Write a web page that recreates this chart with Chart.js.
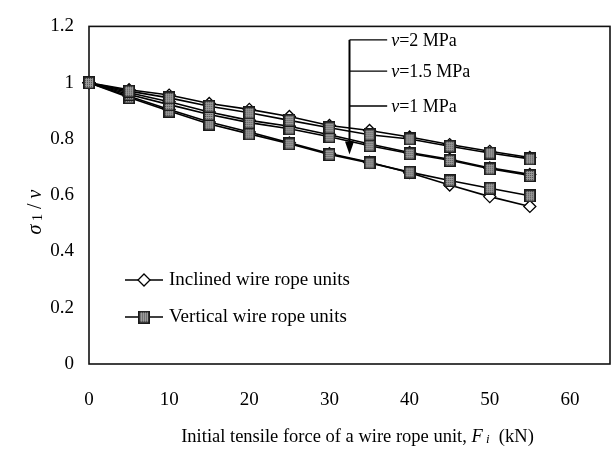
<!DOCTYPE html>
<html>
<head>
<meta charset="utf-8">
<script src="https://cdn.jsdelivr.net/npm/chart.js@4/dist/chart.umd.min.js"></script>
<style>
  html, body { margin: 0; padding: 0; background: #fff; }
  #wrap { width: 616px; height: 457px; position: relative; }
</style>
</head>
<body>
<div id="wrap"><canvas id="c" width="616" height="457"></canvas></div>
<script>
// ---- data ----
const forces = [0, 5, 10, 15, 20, 25, 30, 35, 40, 45, 50, 55];
const inclinedV2  = [1, 0.975, 0.956, 0.926, 0.905, 0.880, 0.848, 0.830, 0.807, 0.780, 0.756, 0.734];
const verticalV2  = [1, 0.970, 0.946, 0.916, 0.893, 0.866, 0.840, 0.815, 0.800, 0.774, 0.750, 0.729];
const inclinedV15 = [1, 0.964, 0.932, 0.896, 0.866, 0.845, 0.815, 0.782, 0.752, 0.728, 0.697, 0.674];
const verticalV15 = [1, 0.958, 0.922, 0.887, 0.858, 0.836, 0.808, 0.776, 0.748, 0.724, 0.694, 0.670];
const inclinedV1  = [1, 0.952, 0.905, 0.860, 0.825, 0.786, 0.748, 0.717, 0.680, 0.636, 0.595, 0.560];
const verticalV1  = [1, 0.947, 0.899, 0.853, 0.818, 0.783, 0.745, 0.715, 0.682, 0.652, 0.625, 0.598];
const xTicks = [0, 10, 20, 30, 40, 50, 60];
const yTicks = [0, 0.2, 0.4, 0.6, 0.8, 1, 1.2];
const legendLabels = ['Inclined wire rope units', 'Vertical wire rope units'];
const pressureLabels = ['2', '1.5', '1'];
const pressureLabelY = [1.152, 1.041, 0.917];
const arrowX = 32.5, arrowTop = 1.152, arrowBottom = 0.745, labelLineEndX = 37.2;

const SERIF = '"Liberation Serif", "DejaVu Serif", serif';

// square marker with grid pattern
function makeSquare(w, h) {
  const c = document.createElement('canvas');
  c.width = w; c.height = h;
  const g = c.getContext('2d');
  g.fillStyle = '#4a4a4a';
  g.fillRect(0, 0, w, h);
  g.strokeStyle = '#9c9c9c';
  g.lineWidth = 1;
  for (let p = 3; p < w - 1; p += 2) {
    g.beginPath(); g.moveTo(p + 0.5, 2); g.lineTo(p + 0.5, h - 2); g.stroke();
  }
  for (let p = 3; p < h - 1; p += 2) {
    g.beginPath(); g.moveTo(2, p + 0.5); g.lineTo(w - 2, p + 0.5); g.stroke();
  }
  g.strokeStyle = '#1a1a1a';
  g.lineWidth = 1.5;
  g.strokeRect(0.75, 0.75, w - 1.5, h - 1.5);
  return c;
}
const squareImg = makeSquare(12, 13);

function pts(arr) { return forces.map((f, i) => ({ x: f, y: arr[i] })); }

const inclinedStyle = {
  borderColor: '#000', borderWidth: 1.6, pointStyle: 'rectRot', pointRadius: 6,
  pointBackgroundColor: '#fff', pointBorderColor: '#000', pointBorderWidth: 1.3,
  fill: false, tension: 0, clip: false
};
const verticalStyle = {
  borderColor: '#000', borderWidth: 1.6, pointStyle: squareImg, pointRadius: 6,
  fill: false, tension: 0, clip: false
};

// vertical series listed first so they are drawn on top
const datasets = [
  Object.assign({ label: 'Vertical v=2', data: pts(verticalV2) }, verticalStyle),
  Object.assign({ label: 'Vertical v=1.5', data: pts(verticalV15) }, verticalStyle),
  Object.assign({ label: 'Vertical v=1', data: pts(verticalV1) }, verticalStyle),
  Object.assign({ label: 'Inclined v=2', data: pts(inclinedV2) }, inclinedStyle),
  Object.assign({ label: 'Inclined v=1.5', data: pts(inclinedV15) }, inclinedStyle),
  Object.assign({ label: 'Inclined v=1', data: pts(inclinedV1) }, inclinedStyle)
];

const decor = {
  id: 'decor',
  beforeDatasetsDraw(chart) {
    const { ctx, chartArea: a } = chart;
    ctx.save();
    ctx.strokeStyle = '#111';
    ctx.lineWidth = 1.6;
    ctx.strokeRect(a.left, a.top, a.right - a.left, a.bottom - a.top);
    ctx.restore();
  },
  afterDraw(chart) {
    const { ctx, chartArea: a, scales } = chart;
    const xs = scales.x, ys = scales.y;
    ctx.save();
    ctx.fillStyle = '#000';
    ctx.strokeStyle = '#000';

    // pressure annotation
    const ax = xs.getPixelForValue(arrowX);
    const at = ys.getPixelForValue(arrowTop);
    const ab = ys.getPixelForValue(arrowBottom);
    ctx.lineWidth = 2;
    ctx.beginPath(); ctx.moveTo(ax, at); ctx.lineTo(ax, ab - 8); ctx.stroke();
    ctx.beginPath();
    ctx.moveTo(ax - 4.5, ab - 13); ctx.lineTo(ax + 4.5, ab - 13); ctx.lineTo(ax, ab); ctx.closePath(); ctx.fill();
    const lx = xs.getPixelForValue(labelLineEndX);
    ctx.lineWidth = 1.4;
    ctx.textBaseline = 'middle';
    pressureLabels.forEach((p, i) => {
      const y = ys.getPixelForValue(pressureLabelY[i]);
      ctx.beginPath(); ctx.moveTo(ax, y); ctx.lineTo(lx, y); ctx.stroke();
      let x = lx + 4;
      ctx.font = 'italic 18px ' + SERIF;
      ctx.fillText('v', x, y + 1); x += ctx.measureText('v').width;
      ctx.font = '18px ' + SERIF;
      ctx.fillText('=' + p + ' MPa', x, y + 1);
    });

    // legend
    const legY = [280, 317];
    const lx0 = 125, lx1 = 163, mx = 144;
    ctx.lineWidth = 1.5;
    legY.forEach((y, i) => {
      ctx.beginPath(); ctx.moveTo(lx0, y); ctx.lineTo(lx1, y); ctx.stroke();
      if (i === 0) {
        ctx.fillStyle = '#fff';
        ctx.beginPath();
        ctx.moveTo(mx, y - 6); ctx.lineTo(mx + 6, y); ctx.lineTo(mx, y + 6); ctx.lineTo(mx - 6, y); ctx.closePath();
        ctx.fill(); ctx.lineWidth = 1.3; ctx.stroke(); ctx.lineWidth = 1.5;
      } else {
        ctx.drawImage(squareImg, mx - 6, y - 6.5);
      }
      ctx.fillStyle = '#000';
      ctx.font = '19px ' + SERIF;
      ctx.textBaseline = 'middle';
      ctx.fillText(legendLabels[i], 169, y);
    });

    // x axis title
    const tY = 437;
    const parts = [
      { t: 'Initial tensile force of a wire rope unit, ', f: '18.5px ' + SERIF, dy: 0 },
      { t: 'F', f: 'italic 18.5px ' + SERIF, dy: 0 },
      { t: ' i', f: 'italic 13px ' + SERIF, dy: 3 },
      { t: '  (kN)', f: '18.5px ' + SERIF, dy: 0 }
    ];
    let total = 0;
    parts.forEach(p => { ctx.font = p.f; p.w = ctx.measureText(p.t).width; total += p.w; });
    let x = (a.left + a.right) / 2 - total / 2 + 8;
    ctx.textBaseline = 'middle';
    parts.forEach(p => { ctx.font = p.f; ctx.fillText(p.t, x, tY + p.dy); x += p.w; });

    // y axis title (rotated)
    ctx.translate(36, 212);
    ctx.rotate(-Math.PI / 2);
    const yparts = [
      { t: 'σ', f: 'italic 20px ' + SERIF, dy: 0 },
      { t: ' 1', f: '14px ' + SERIF, dy: 2 },
      { t: ' / ', f: '20px ' + SERIF, dy: 0 },
      { t: 'v', f: 'italic 20px ' + SERIF, dy: 0 }
    ];
    total = 0;
    yparts.forEach(p => { ctx.font = p.f; p.w = ctx.measureText(p.t).width; total += p.w; });
    x = -total / 2;
    yparts.forEach(p => { ctx.font = p.f; ctx.fillText(p.t, x, p.dy); x += p.w; });
    ctx.restore();
  }
};

new Chart(document.getElementById('c'), {
  type: 'line',
  data: { datasets },
  options: {
    responsive: false,
    animation: false,
    devicePixelRatio: 1,
    layout: { autoPadding: false, padding: { left: 0, right: 6, top: 16, bottom: 0 } },
    plugins: { legend: { display: false }, tooltip: { enabled: false } },
    scales: {
      x: {
        type: 'linear', min: 0, max: 65,
        afterFit(s) { s.height = 93; },
        afterBuildTicks(s) { s.ticks = xTicks.map(v => ({ value: v })); },
        grid: { display: false, drawTicks: false },
        border: { display: false },
        ticks: { padding: 25, color: '#000', font: { family: SERIF, size: 19 }, maxRotation: 0, autoSkip: false,
                 callback: v => String(v) }
      },
      y: {
        type: 'linear', min: 0, max: 1.2,
        afterFit(s) { s.width = 89; },
        afterBuildTicks(s) { s.ticks = yTicks.map(v => ({ value: v })); },
        grid: { display: false, drawTicks: false },
        border: { display: false },
        ticks: { padding: 15, color: '#000', font: { family: SERIF, size: 19 }, autoSkip: false,
                 callback: v => String(Number(v.toFixed(1))) }
      }
    }
  },
  plugins: [decor]
});
</script>
</body>
</html>
